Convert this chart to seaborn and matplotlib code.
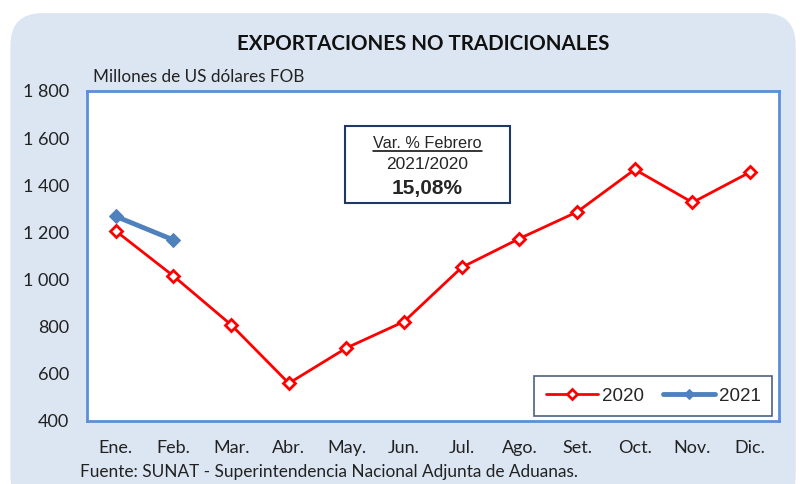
import pandas as pd
import numpy as np
import matplotlib.pyplot as plt
import seaborn as sns
from matplotlib.patches import FancyBboxPatch, Rectangle

# Data (millones de US$ FOB)
months = ['Ene.', 'Feb.', 'Mar.', 'Abr.', 'May.', 'Jun.',
          'Jul.', 'Ago.', 'Set.', 'Oct.', 'Nov.', 'Dic.']
exp_2020 = [1206, 1015, 808, 560, 710, 822, 1052, 1174, 1287, 1467, 1327, 1456]
months_2021 = ['Ene.', 'Feb.']
exp_2021 = [1268, 1168]
yticks = [400, 600, 800, 1000, 1200, 1400, 1600, 1800]
ytick_labels = ['400', '600', '800', '1 000', '1 200', '1 400', '1 600', '1 800']

df = pd.concat([
    pd.DataFrame({'mes': months, 'valor': exp_2020, 'anio': '2020'}),
    pd.DataFrame({'mes': months_2021, 'valor': exp_2021, 'anio': '2021'}),
])

sns.set_style('white')
plt.rcParams['font.family'] = ['Lato', 'DejaVu Sans']

fig = plt.figure(figsize=(8.03, 4.84), dpi=100)
fig.patch.set_facecolor('white')

# rounded light blue panel
bg = FancyBboxPatch((0.013, -0.05), 0.978, 1.023, boxstyle='round,pad=0,rounding_size=0.04',
                    transform=fig.transFigure, facecolor='#DCE6F2', edgecolor='none',
                    mutation_aspect=803 / 484, zorder=-5)
fig.patches.append(bg)

ax = fig.add_axes([0.1083, 0.1302, 0.8618, 0.6818])
ax.set_zorder(2)
ax.set_facecolor('white')

red = '#FF0000'
blue = '#4F81BD'
sns.lineplot(data=df[df.anio == '2020'], x='mes', y='valor', ax=ax, color=red, lw=2,
             marker='D', markersize=6.5, markerfacecolor='white', markeredgecolor=red,
             markeredgewidth=2, label='2020', sort=False)
sns.lineplot(data=df[df.anio == '2021'], x='mes', y='valor', ax=ax, color=blue, lw=3.5,
             marker='D', markersize=7.5, markerfacecolor=blue, markeredgecolor=blue,
             label='2021', sort=False)

ax.set_xlim(-0.5, 11.5)
ax.set_ylim(400, 1800)
ax.set_yticks(yticks)
ax.set_yticklabels(ytick_labels, fontsize=13, color='#222222')
ax.set_xticks(range(12))
ax.set_xticklabels(months, fontsize=13, color='#222222')
ax.set_xticks(np.arange(-0.5, 12, 1), minor=True)
ax.tick_params(axis='x', which='major', length=0, pad=14)
ax.tick_params(axis='x', which='minor', length=6, width=1.2, color='#5B8FD6', direction='out')
ax.tick_params(axis='y', length=9, width=1.2, color='#5B8FD6', direction='out', pad=4)
ax.set_xlabel('')
ax.set_ylabel('')
for s in ax.spines.values():
    s.set_visible(True)
    s.set_color('#5B8FD6')
    s.set_linewidth(2)

# legend
leg = ax.legend(loc='lower right', bbox_to_anchor=(0.990, 0.015), ncol=2, frameon=True,
                fancybox=False, edgecolor='#1F3864', handlelength=2.8, columnspacing=1.0,
                borderpad=0.6, borderaxespad=0, handletextpad=0.2,
                prop={'family': 'Liberation Sans', 'size': 13.5})
leg.get_frame().set_linewidth(1.2)
for h in leg.get_lines():
    h.set_markersize(5.5)

# variation box
ax.add_patch(Rectangle((0.373, 0.661), 0.238, 0.233, transform=ax.transAxes,
                       facecolor='white', edgecolor='#1F3864', lw=1.5, zorder=5))
ax.text(0.492, 0.842, 'Var. % Febrero', transform=ax.transAxes, ha='center', va='center',
        fontsize=11.7, family='Liberation Sans', zorder=6)
ax.plot([0.413, 0.571], [0.819, 0.819], transform=ax.transAxes, color='black', lw=1.1, zorder=6)
ax.text(0.492, 0.776, '2021/2020', transform=ax.transAxes, ha='center', va='center',
        fontsize=12.5, family='Liberation Sans', zorder=6)
ax.text(0.492, 0.703, '15,08%', transform=ax.transAxes, ha='center', va='center',
        fontsize=15, fontweight='bold', family='Liberation Sans', zorder=6)

fig.text(0.527, 0.909, 'EXPORTACIONES NO TRADICIONALES', ha='center', va='center',
         fontsize=14.8, fontweight='bold', color='#111111')
fig.text(0.116, 0.841, 'Millones de US dólares FOB', ha='left', va='center',
         fontsize=12.3, color='#222222')
fig.text(0.1, 0.025, 'Fuente: SUNAT - Superintendencia Nacional Adjunta de Aduanas.',
         ha='left', va='center', fontsize=12.4, color='#222222')

fig.savefig('out.png', dpi=100)
